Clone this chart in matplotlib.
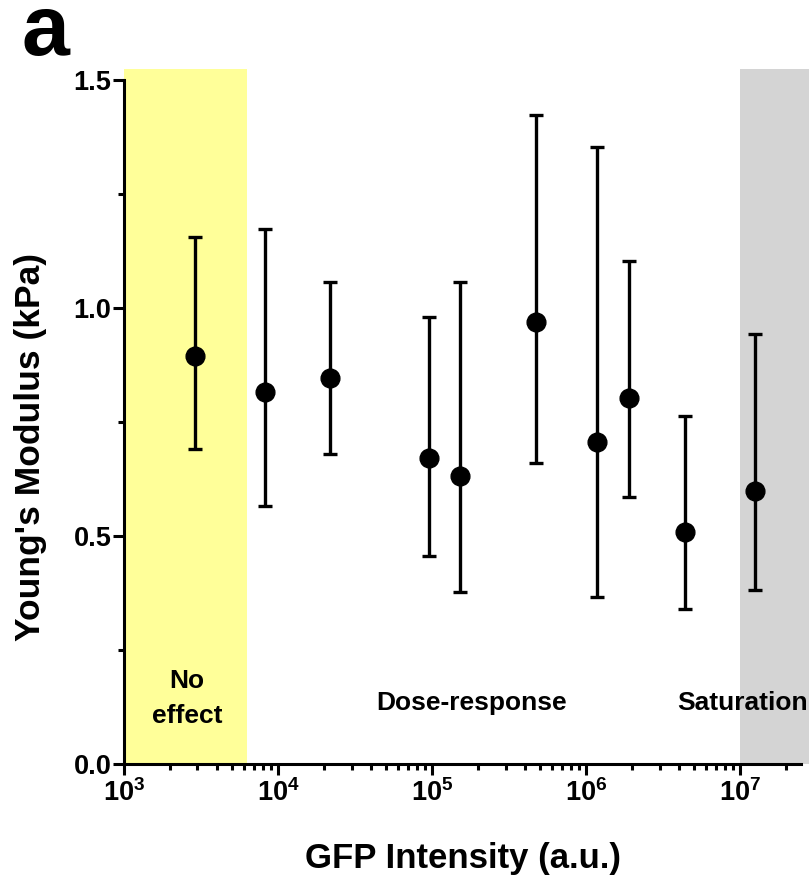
import matplotlib
matplotlib.use("Agg")
import matplotlib.pyplot as plt
from matplotlib.ticker import LogLocator, MultipleLocator, NullFormatter

plt.rcParams["font.family"] = ["Liberation Sans", "DejaVu Sans"]
plt.rcParams["font.weight"] = "bold"
plt.rcParams["mathtext.fontset"] = "custom"
plt.rcParams["mathtext.rm"] = "Liberation Sans:bold"
plt.rcParams["mathtext.it"] = "Liberation Sans:bold"
plt.rcParams["mathtext.bf"] = "Liberation Sans:bold"
plt.rcParams["mathtext.default"] = "rm"

# values
gfp = [2890, 8240, 21800, 95900, 152000, 473000, 1.17e6, 1.91e6, 4.39e6, 1.24e7]
modulus = [0.895, 0.816, 0.847, 0.670, 0.632, 0.970, 0.705, 0.803, 0.509, 0.599]
upper = [1.155, 1.174, 1.057, 0.981, 1.056, 1.423, 1.353, 1.103, 0.764, 0.943]
lower = [0.691, 0.566, 0.680, 0.456, 0.377, 0.661, 0.367, 0.586, 0.339, 0.382]

no_effect_span = [1e3, 6.3e3]
saturation_span = [1e7, 2.8e7]
xticks = [1e3, 1e4, 1e5, 1e6, 1e7]
xtick_labels = [r"$10^{3}$", r"$10^{4}$", r"$10^{5}$", r"$10^{6}$", r"$10^{7}$"]
yticks = [0.0, 0.5, 1.0, 1.5]
ytick_labels = ["0.0", "0.5", "1.0", "1.5"]

W, H = 812, 877
fig = plt.figure(figsize=(W / 100, H / 100), dpi=100)
ax = fig.add_axes([124 / W, (H - 764) / H, (809 - 124) / W, (764 - 69) / H])

ax.axvspan(*no_effect_span, color="#FFFF99", lw=0, zorder=0)
ax.axvspan(*saturation_span, color="#D4D4D4", lw=0, zorder=0)

err = [[m - lo for m, lo in zip(modulus, lower)],
       [hi - m for m, hi in zip(modulus, upper)]]
ax.errorbar(gfp, modulus, yerr=err, fmt="o", color="black", ms=13.5,
            elinewidth=2.4, capsize=5, capthick=2.4, zorder=3)

ax.set_xscale("log")
ax.set_xlim(1e3, 2.8e7)
ax.set_ylim(0, 1.524)
for side in ("top", "right"):
    ax.spines[side].set_visible(False)
for side in ("left", "bottom"):
    ax.spines[side].set_linewidth(2.2)
ax.spines["left"].set_bounds(0, 1.5)
ax.spines["bottom"].set_bounds(1e3, 2.5e7)

ax.set_xticks(xticks, xtick_labels)
ax.xaxis.set_minor_locator(LogLocator(base=10, subs=range(2, 10), numticks=20))
ax.xaxis.set_minor_formatter(NullFormatter())
ax.set_yticks(yticks, ytick_labels)
ax.yaxis.set_minor_locator(MultipleLocator(0.25))

ax.tick_params(axis="both", which="major", length=8, width=2.2)
ax.tick_params(axis="both", which="minor", length=4.5, width=2.2)
ax.tick_params(axis="x", which="major", labelsize=19.5, pad=3)
ax.tick_params(axis="y", which="major", labelsize=19.5, pad=1)
for lab in ax.get_yticklabels():
    lab.set_fontweight("bold")

ax.text(2570, 0.167, "No", ha="center", va="baseline", fontsize=19, fontweight="bold")
ax.text(2570, 0.090, "effect", ha="center", va="baseline", fontsize=19, fontweight="bold")
ax.text(1.81e5, 0.118, "Dose-response", ha="center", va="baseline", fontsize=19,
        fontweight="bold")
ax.text(1.04e7, 0.118, "Saturation", ha="center", va="baseline", fontsize=19,
        fontweight="bold", clip_on=False)

fig.text(463 / W, 1 - 868 / H, "GFP Intensity (a.u.)", ha="center", va="baseline",
         fontsize=25, fontweight="bold")
fig.text(40 / W, 1 - 447 / H, "Young's Modulus (kPa)", rotation=90,
         rotation_mode="anchor", ha="center", va="baseline", fontsize=25.5,
         fontweight="bold")
fig.text(22 / W, 1 - 55 / H, "a", ha="left", va="baseline", fontsize=62,
         fontweight="bold")

fig.savefig("out.png", dpi=100)
